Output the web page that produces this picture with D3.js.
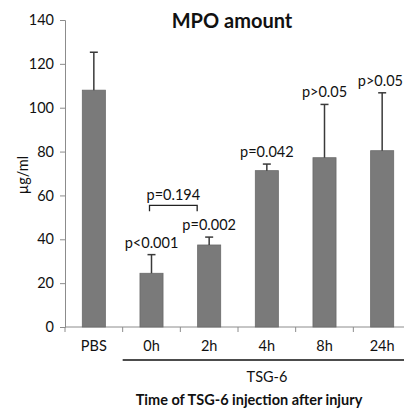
<!DOCTYPE html>
<html>
<head>
<meta charset="utf-8">
<script src="https://cdn.jsdelivr.net/npm/d3@7"></script>
<style>
  body { margin: 0; background: #fff; }
  svg { display: block; font-family: Lato, "Open Sans", sans-serif; }
</style>
</head>
<body>
<div id="chart"></div>
<script>
// data
const groups = ["PBS", "0h", "2h", "4h", "8h", "24h"];
const means = [108, 24.5, 37.4, 71.3, 77.2, 80.4];
const errTops = [125.3, 33, 41, 74.3, 101.5, 106.8];
const pLabels = ["", "p<0.001", "p=0.002", "p=0.042", "p>0.05", "p>0.05"];
const yTicks = [0, 20, 40, 60, 80, 100, 120, 140];

const width = 404, height = 408;
const margin = { top: 20, left: 65, bottom: 81, right: -7 };

const svg = d3.select("#chart").append("svg")
  .attr("width", width)
  .attr("height", height);

const x = d3.scaleBand()
  .domain(groups)
  .range([margin.left, width - margin.right])
  .paddingInner(0.6)
  .paddingOuter(0.3);

const y = d3.scaleLinear()
  .domain([0, 140])
  .range([height - margin.bottom, margin.top]);

// y axis
const yAxis = svg.append("g")
  .attr("transform", `translate(${margin.left},0)`)
  .call(d3.axisLeft(y).tickValues(yTicks).tickSize(5).tickPadding(6));
yAxis.select(".domain").attr("stroke", "#8c8c8c");
yAxis.selectAll(".tick line").attr("stroke", "#8c8c8c");
yAxis.selectAll(".tick text").attr("font-size", 14.5).attr("fill", "#111").attr("font-family", "Lato, sans-serif");

// x axis: line plus ticks at the band edges
const x0 = y(0);
const step = x.step();
const edges = groups.map(g => x(g) + x.bandwidth() / 2 - step / 2);
edges.push(edges[edges.length - 1] + step);
svg.append("line")
  .attr("x1", margin.left).attr("x2", width)
  .attr("y1", x0).attr("y2", x0)
  .attr("stroke", "#8c8c8c");
svg.selectAll(".xtick").data(edges).join("line")
  .attr("class", "xtick")
  .attr("x1", d => d).attr("x2", d => d)
  .attr("y1", x0).attr("y2", x0 + 5)
  .attr("stroke", "#8c8c8c");
svg.selectAll(".xlab").data(groups).join("text")
  .attr("class", "xlab")
  .attr("x", d => x(d) + x.bandwidth() / 2)
  .attr("y", x0 + 24)
  .attr("text-anchor", "middle")
  .attr("font-size", 14.5)
  .attr("fill", "#111")
  .text(d => d);

// bars
svg.selectAll(".bar").data(groups).join("rect")
  .attr("class", "bar")
  .attr("x", d => x(d))
  .attr("width", x.bandwidth())
  .attr("y", (d, i) => y(means[i]))
  .attr("height", (d, i) => y(0) - y(means[i]))
  .attr("fill", "#7a7a7a")
  .attr("stroke", "#6a6a6a")
  .attr("stroke-width", 0.8);

// error bars (upper only)
const eb = svg.selectAll(".err").data(groups).join("g").attr("class", "err");
eb.append("line")
  .attr("x1", d => x(d) + x.bandwidth() / 2)
  .attr("x2", d => x(d) + x.bandwidth() / 2)
  .attr("y1", (d, i) => y(means[i]))
  .attr("y2", (d, i) => y(errTops[i]))
  .attr("stroke", "#3a3a3a").attr("stroke-width", 1.5);
eb.append("line")
  .attr("x1", d => x(d) + x.bandwidth() / 2 - 4)
  .attr("x2", d => x(d) + x.bandwidth() / 2 + 4)
  .attr("y1", (d, i) => y(errTops[i]))
  .attr("y2", (d, i) => y(errTops[i]))
  .attr("stroke", "#3a3a3a").attr("stroke-width", 1.5);

// p-value labels above the error bars; the last one is kept inside the frame
svg.selectAll(".plab").data(groups).join("text")
  .attr("class", "plab")
  .attr("x", (d, i) => i === 5 ? width - 1 : x(d) + x.bandwidth() / 2)
  .attr("y", (d, i) => y(errTops[i]) - 7)
  .attr("text-anchor", (d, i) => i === 5 ? "end" : "middle")
  .attr("font-size", 14.5)
  .attr("fill", "#111")
  .text((d, i) => pLabels[i]);

// comparison bracket 0h vs 2h
const bx1 = x("0h") + x.bandwidth() / 2 - 2, bx2 = x("2h") + x.bandwidth() / 2 - 12;
const by = y(55.5);
svg.append("path")
  .attr("d", `M${bx1},${by + 6}V${by}H${bx2}V${by + 6}`)
  .attr("fill", "none")
  .attr("stroke", "#222")
  .attr("stroke-width", 1.3);
svg.append("text")
  .attr("x", (bx1 + bx2) / 2)
  .attr("y", by - 5)
  .attr("text-anchor", "middle")
  .attr("font-size", 14.5)
  .attr("fill", "#111")
  .text("p=0.194");

// title
svg.append("text")
  .attr("x", 232).attr("y", 28)
  .attr("text-anchor", "middle")
  .attr("font-size", 20)
  .attr("font-weight", "bold")
  .attr("fill", "#111")
  .text("MPO amount");

// y label
svg.append("text")
  .attr("transform", `translate(28,175) rotate(-90)`)
  .attr("text-anchor", "middle")
  .attr("font-size", 14.5)
  .attr("fill", "#111")
  .text("µg/ml");

// TSG-6 group line and labels
svg.append("line")
  .attr("x1", edges[1]).attr("x2", width)
  .attr("y1", 360).attr("y2", 360)
  .attr("stroke", "#111").attr("stroke-width", 1.3);
svg.append("text")
  .attr("x", 267).attr("y", 382)
  .attr("text-anchor", "middle")
  .attr("font-size", 14.5)
  .attr("fill", "#111")
  .text("TSG-6");
svg.append("text")
  .attr("x", 249).attr("y", 405)
  .attr("text-anchor", "middle")
  .attr("font-size", 14.5)
  .attr("font-weight", "bold")
  .attr("fill", "#111")
  .text("Time of TSG-6 injection after injury");
</script>
</body>
</html>
